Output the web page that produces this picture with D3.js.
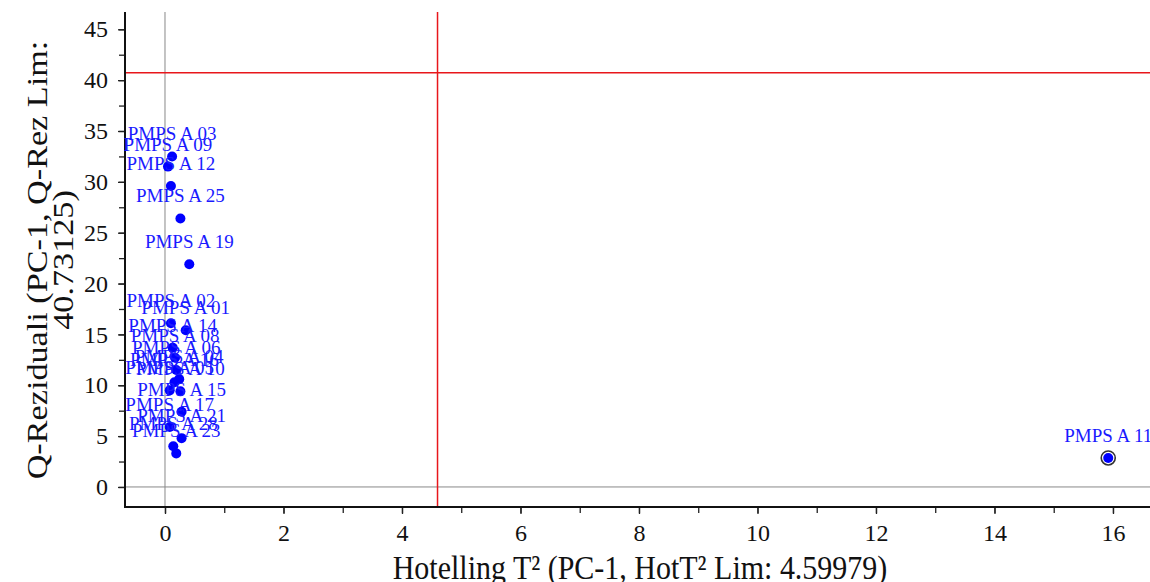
<!DOCTYPE html>
<html>
<head>
<meta charset="utf-8">
<script src="https://cdn.jsdelivr.net/npm/d3@7"></script>
<style>
html,body{margin:0;padding:0;background:#fff;}
svg{display:block;}
text{font-family:"Liberation Serif","Times New Roman",serif;}
</style>
</head>
<body>
<svg id="chart" width="1150" height="582"></svg>
<script>
const sampleNames = ["PMPS A 03","PMPS A 09","PMPS A 12","PMPS A 25","PMPS A 19","PMPS A 02","PMPS A 01","PMPS A 14","PMPS A 08","PMPS A 06","PMPS A 04","PMPS A 16","PMPS A 05","PMPS A 10","PMPS A 15","PMPS A 17","PMPS A 21","PMPS A 28","PMPS A 23","PMPS A 11"];
const hotellingT2 = [0.12,0.05,0.10,0.26,0.41,0.10,0.35,0.13,0.17,0.19,0.24,0.16,0.08,0.26,0.28,0.08,0.28,0.14,0.19,15.92];
const qResiduals = [32.5,31.5,29.6,26.4,21.9,16.1,15.4,13.7,12.7,11.5,10.6,10.3,9.5,9.4,7.4,5.9,4.8,4.0,3.3,2.85];
const outliers = ["PMPS A 11"];
const xTicks = [0,2,4,6,8,10,12,14,16];
const yTicks = [0,5,10,15,20,25,30,35,40,45];
const hotLimit = 4.59979;
const qLimit = 40.73125;
const xTitle = "Hotelling T\u00B2 (PC-1, HotT\u00B2 Lim: 4.59979)";
const yTitleLines = ["Q-Reziduali (PC-1, Q-Rez Lim:", "40.73125)"];

(function () {
const svg = d3.select("#chart");
const mL = 125, mR = 1150, mT = 12, mB = 507;
const x = d3.scaleLinear().domain([-0.675, 16.625]).range([mL, mR]);
const y = d3.scaleLinear().domain([-1.97, 46.7]).range([mB, mT]);

// zero lines
svg.append("line").attr("x1", x(0)).attr("x2", x(0)).attr("y1", mT).attr("y2", mB)
  .attr("stroke", "#888").attr("stroke-width", 1);
svg.append("line").attr("x1", mL).attr("x2", mR).attr("y1", y(0)).attr("y2", y(0))
  .attr("stroke", "#888").attr("stroke-width", 1);

// limit lines
svg.append("line").attr("x1", x(hotLimit)).attr("x2", x(hotLimit)).attr("y1", mT).attr("y2", mB)
  .attr("stroke", "#e8161b").attr("stroke-width", 1.5);
svg.append("line").attr("x1", mL).attr("x2", mR).attr("y1", y(qLimit)).attr("y2", y(qLimit))
  .attr("stroke", "#e8161b").attr("stroke-width", 1.5);

// axes
const xMinor = d3.range(0, 17, 1);
const yMinor = d3.range(0, 47, 2.5);
svg.append("g").attr("transform", `translate(0,${mB})`)
  .call(d3.axisBottom(x).tickValues(xMinor).tickSize(6).tickFormat(""))
  .call(g => g.select(".domain").remove());
const xAxisMain = svg.append("g").attr("transform", `translate(0,${mB})`)
  .call(d3.axisBottom(x).tickValues(xTicks).tickSize(7).tickPadding(10).tickFormat(d3.format("d")));
xAxisMain.selectAll("text").attr("font-size", 24).attr("fill", "#111")
  .style("font-family", "'Liberation Serif', serif");
xAxisMain.select(".domain").remove();

svg.append("g").attr("transform", `translate(${mL},0)`)
  .call(d3.axisLeft(y).tickValues(yMinor).tickSize(6).tickFormat(""))
  .call(g => g.select(".domain").remove());
const yAxisMain = svg.append("g").attr("transform", `translate(${mL},0)`)
  .call(d3.axisLeft(y).tickValues(yTicks).tickSize(7).tickPadding(10).tickFormat(d3.format("d")));
yAxisMain.selectAll("text").attr("font-size", 24).attr("fill", "#111")
  .style("font-family", "'Liberation Serif', serif");
yAxisMain.select(".domain").remove();
svg.selectAll(".tick line").attr("stroke", "#222").attr("stroke-width", 1.3);

// axis lines
svg.append("line").attr("x1", mL).attr("x2", mL).attr("y1", mT).attr("y2", mB + 1)
  .attr("stroke", "#111").attr("stroke-width", 2);
svg.append("line").attr("x1", mL - 1).attr("x2", mR).attr("y1", mB).attr("y2", mB)
  .attr("stroke", "#111").attr("stroke-width", 2);

// titles
svg.append("text").attr("transform", "translate(640,579) scale(1,1.1)").attr("text-anchor", "middle")
  .attr("font-size", 30).attr("fill", "#111").text(xTitle);
const yt = svg.append("text").attr("transform", "translate(47,260) rotate(-90) scale(1.14,1)")
  .attr("text-anchor", "middle").attr("font-size", 30).attr("fill", "#111");
yTitleLines.forEach((l, i) => yt.append("tspan").attr("x", 0).attr("y", i * 26).text(l));

// points
const data = sampleNames.map((n, i) => ({name: n, t2: hotellingT2[i], q: qResiduals[i]}));
const pts = svg.append("g");
pts.selectAll("circle.ring").data(data.filter(d => outliers.includes(d.name))).enter()
  .append("circle").attr("class", "ring")
  .attr("cx", d => x(d.t2)).attr("cy", d => y(d.q)).attr("r", 7)
  .attr("fill", "#fff").attr("stroke", "#333").attr("stroke-width", 1.6);
pts.selectAll("circle.dot").data(data).enter()
  .append("circle").attr("class", "dot")
  .attr("cx", d => x(d.t2)).attr("cy", d => y(d.q)).attr("r", 5)
  .attr("fill", "#0000ff");
pts.selectAll("text").data(data).enter()
  .append("text")
  .attr("x", d => x(d.t2)).attr("y", d => y(d.q) - 16)
  .attr("text-anchor", "middle").attr("font-size", 19).attr("fill", "#1a1aff")
  .text(d => d.name);
})();
</script>
</body>
</html>
